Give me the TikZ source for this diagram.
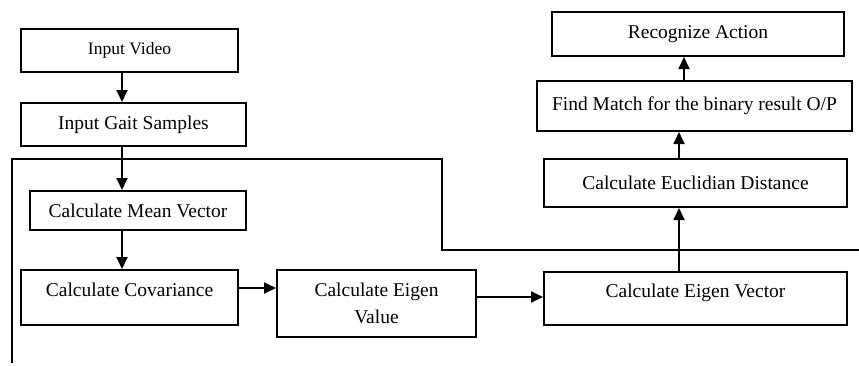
\documentclass[tikz,border=0pt]{standalone}
\usepackage{fontspec}
\setmainfont{Liberation Serif}
\usetikzlibrary{arrows.meta}
\begin{document}
\begin{tikzpicture}[x=1pt, y=-1pt, line width=1.8pt,
    blk/.style={draw, line width=2pt, inner sep=0pt, font=\fontsize{19.5}{27}\selectfont},
    arr/.style={-{Triangle[length=12pt, width=11pt]}}]
      \useasboundingbox (0,0) rectangle (859,365);
      \node[blk, minimum width=217, minimum height=43, font=\fontsize{17.5}{21}\selectfont] (vid) at (129.5,50.5) {Input Video};
      \node[blk, minimum width=225, minimum height=43] (gait) at (133.5,124.5) {Input Gait Samples};
      \node[blk, minimum width=216, minimum height=39] (mean) at (138,210.5) {Calculate Mean Vector};
      \node[blk, minimum width=217, minimum height=55, text depth=16pt] (cov) at (129.5,297.5) {Calculate Covariance};
      \node[blk, minimum width=199, minimum height=67, align=center] (eval) at (376.5,303.5) {Calculate Eigen\\Value};
      \node[blk, minimum width=303, minimum height=53, text depth=16pt] (evec) at (695.5,298.5) {Calculate Eigen Vector};
      \node[blk, minimum width=303, minimum height=48] (euc) at (695.5,183) {Calculate Euclidian Distance};
      \node[blk, minimum width=315, minimum height=50] (match) at (694.5,106) {Find Match for the binary result O/P};
      \node[blk, minimum width=292, minimum height=44] (act) at (698,34) {Recognize Action};
      \coordinate (ax) at (122,0);
      \coordinate (bx) at (679,0);
      \coordinate (cx) at (684,0);
      \coordinate (vy) at (0,297);
      % frame
      \draw (12,363) -- (12,159) -- (442,159) -- (442,250) -- (859,250);
      \draw[arr] (vid.south -| ax) -- (gait.north -| ax);
      \draw[arr] (gait.south -| ax) -- (mean.north -| ax);
      \draw[arr] (mean.south -| ax) -- (cov.north -| ax);
      \draw[arr] ([yshift=9.5pt]cov.east) -- ([yshift=9.5pt]cov.east -| eval.west);
      \draw[arr] (eval.east |- vy) -- (evec.west |- vy);
      \draw[arr] (evec.north -| bx) -- (euc.south -| bx);
      \draw[arr] (euc.north -| bx) -- (match.south -| bx);
      \draw[arr] (match.north -| cx) -- (act.south -| cx);
   \end{tikzpicture}
\end{document}
